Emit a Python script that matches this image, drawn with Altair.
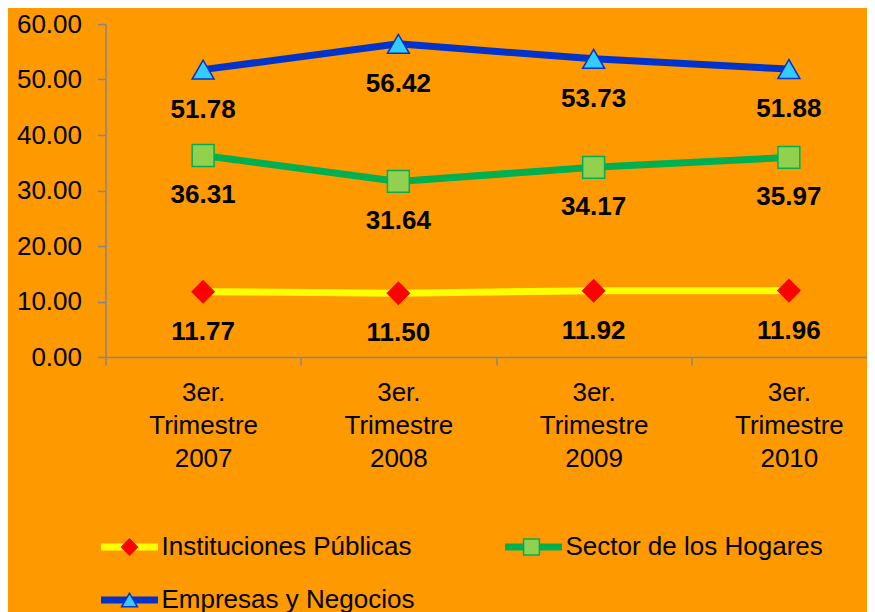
import altair as alt
import pandas as pd

periods = ["3er. Trimestre 2007", "3er. Trimestre 2008", "3er. Trimestre 2009", "3er. Trimestre 2010"]
series = ["Instituciones Públicas", "Sector de los Hogares", "Empresas y Negocios"]
instituciones = [11.77, 11.50, 11.92, 11.96]
hogares = [36.31, 31.64, 34.17, 35.97]
empresas = [51.78, 56.42, 53.73, 51.88]

line_colors = ["#FFFF00", "#00B050", "#0033CC"]
marker_fills = ["#FF0000", "#92D050", "#33CCFF"]
marker_strokes = ["#FF0000", "#00B050", "#0033CC"]
marker_shapes = ["diamond", "square", "triangle-up"]

# legend is laid out column-major: col 1 = Instituciones, Empresas ; col 2 = Sector
legend_order = [0, 2, 1]

FONT = "Liberation Sans"

rows = []
for name, vals in zip(series, [instituciones, hogares, empresas]):
    for p, v in zip(periods, vals):
        rows.append({"periodo": p, "serie": name, "valor": v})
df = pd.DataFrame(rows)

dom = [series[i] for i in legend_order]
lc = [line_colors[i] for i in legend_order]
mf = [marker_fills[i] for i in legend_order]
ms = [marker_strokes[i] for i in legend_order]
mshape = [marker_shapes[i] for i in legend_order]

x_enc = alt.X(
    "periodo:N",
    sort=periods,
    title=None,
    scale=alt.Scale(domain=periods, range=[0, 781], paddingInner=0, paddingOuter=0),
    axis=alt.Axis(
        labelExpr="split(datum.label, ' ')",
        labelFontSize=26,
        labelFont=FONT,
        labelColor="black",
        labelAngle=0,
        labelLineHeight=33,
        labelPadding=14,
        tickBand="extent",
        tickSize=8,
        tickColor="#868686",
        tickWidth=1.5,
        domainColor="#868686",
        domainWidth=1.5,
        grid=False,
        labelLimit=400,
    ),
)
y_enc = alt.Y(
    "valor:Q",
    title=None,
    scale=alt.Scale(domain=[0, 60], nice=False, zero=True),
    axis=alt.Axis(
        values=[0, 10, 20, 30, 40, 50, 60],
        format=".2f",
        labelFontSize=26,
        labelFont=FONT,
        labelColor="black",
        labelPadding=16,
        tickSize=8,
        tickColor="#868686",
        tickWidth=1.5,
        domainColor="#868686",
        domainWidth=1.5,
        grid=False,
    ),
)

common_legend = dict(
    orient="none",
    legendX=-8,
    legendY=510,
    columns=2,
    title=None,
    padding=0,
    labelFontSize=26,
    labelFont=FONT,
    labelColor="black",
    labelLimit=500,
    clipHeight=26,
    rowPadding=27,
)

line_legend = alt.Legend(
    symbolType="stroke",
    symbolSize=57 * 57,
    symbolStrokeWidth=7,
    labelOffset=0,
    symbolOffset=0,
    columnPadding=87,
    **common_legend,
)

# marker legend: symbols only, drawn on top of the line legend
marker_legend = alt.Legend(
    symbolSize=250,
    symbolStrokeWidth=1.5,
    symbolOffset=19,
    labelOffset=38,
    labelExpr="''",
    symbolOpacity=1,
    columnPadding=319,
    **common_legend,
)

base = alt.Chart(df)

lines = base.mark_line(strokeWidth=7).encode(
    x=x_enc,
    y=y_enc,
    color=alt.Color("serie:N", sort=dom, scale=alt.Scale(range=lc), legend=line_legend),
)

points = base.mark_point(filled=True, size=480, opacity=1, strokeWidth=1.5).encode(
    x=x_enc,
    y=y_enc,
    shape=alt.Shape("serie:N", sort=dom, scale=alt.Scale(domain=dom, range=mshape), legend=marker_legend),
    fill=alt.Fill("serie:N", sort=dom, scale=alt.Scale(domain=dom, range=mf), legend=marker_legend),
    stroke=alt.Stroke("serie:N", sort=dom, scale=alt.Scale(domain=dom, range=ms), legend=marker_legend),
)

labels = base.mark_text(
    fontSize=26, fontWeight="bold", font=FONT, color="black", baseline="middle", dy=40
).encode(
    x=x_enc,
    y=y_enc,
    text=alt.Text("valor:Q", format=".2f"),
)

chart = (
    alt.layer(lines, points, labels)
    .properties(
        width=761,
        height=333,
        autosize=alt.AutoSizeParams(type="none"),
        padding={"left": 97.5, "top": 16, "right": 0, "bottom": 255},
        title=alt.Title(
            "Chiapas",
            fontSize=26,
            fontWeight="bold",
            font=FONT,
            color="black",
            anchor="middle",
            dx=-11,
            offset=14,
            baseline="alphabetic",
        ),
    )
    .configure(background="#FF9900")
    .configure_view(stroke=None)
)

chart.save("out.html", embed_options={"renderer": "svg", "actions": False})
